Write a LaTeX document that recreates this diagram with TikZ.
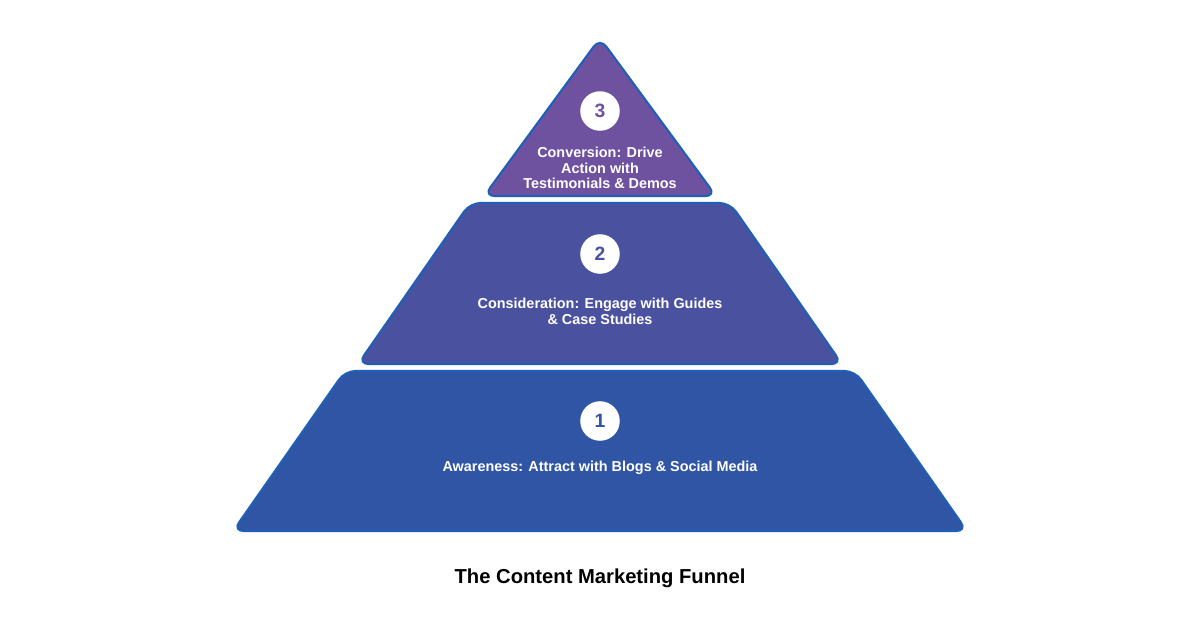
\documentclass[tikz,border=0pt]{standalone}
\usepackage{fontspec}
\setmainfont{Liberation Sans}
\usetikzlibrary{positioning}
\definecolor{tierA}{HTML}{2F55A4}
\definecolor{tierB}{HTML}{4A52A0}
\definecolor{tierC}{HTML}{6E52A0}
\definecolor{rim}{HTML}{1F5FB5}
\tikzset{
  tier/.style={draw=rim,line width=1.2pt,rounded corners=6pt},
  badge/.style={circle,fill=white,minimum size=22.5pt,inner sep=0pt,font=\bfseries\fontsize{11}{11}\selectfont},
  caption/.style={text=white,align=center,font=\bfseries\fontsize{8.2}{9}\selectfont}
}
\begin{document}
\begin{tikzpicture}[x=0.02cm,y=-0.02cm]
  \useasboundingbox (0,0) rectangle (1200,630);
  % tiers
  \fill[white] (0,0) rectangle (1200,630);
  \filldraw[tier,fill=tierA] (345,371) -- (855,371) -- (967,531) -- (233,531) -- cycle;
  \filldraw[tier,fill=tierB] (470,203) -- (730,203) -- (842,364) -- (358,364) -- cycle;
  \filldraw[tier,fill=tierC] (600,38) -- (716,196) -- (484,196) -- cycle;
  % numbers
  \node[badge,text=tierC] (n3) at (600,111) {3};
  \node[badge,text=tierB] (n2) at (600,254) {2};
  \node[badge,text=tierA] (n1) at (600,421) {1};
  % labels
  \node[caption] (t3) at (600,168) {Conversion: Drive\\Action with\\Testimonials \& Demos};
  \node[caption] (t2) at (600,311) {Consideration: Engage with Guides\\\& Case Studies};
  \node[caption] (t1) at (600,468) {Awareness: Attract with Blogs \& Social Media};
  \node[font=\bfseries\fontsize{11.5}{12}\selectfont] (title) at (600,578) {The Content Marketing Funnel};
\end{tikzpicture}
\end{document}
